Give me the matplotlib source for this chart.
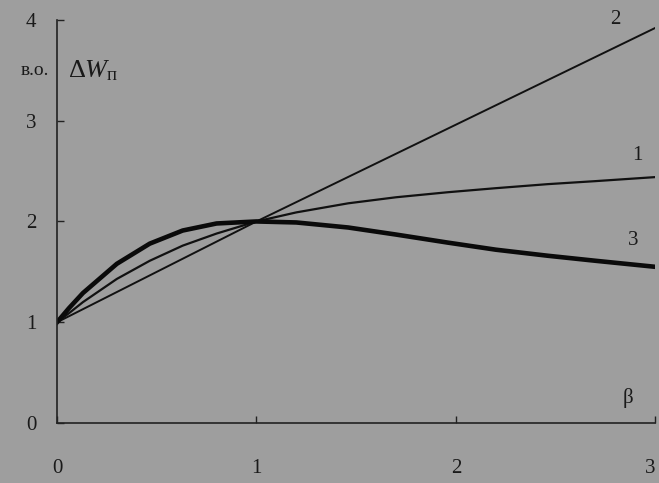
import matplotlib.pyplot as plt

plt.rcParams['font.family'] = ['Liberation Serif', 'DejaVu Serif']
plt.rcParams['mathtext.fontset'] = 'custom'
plt.rcParams['mathtext.rm'] = 'Liberation Serif'
plt.rcParams['mathtext.it'] = 'Liberation Serif:italic'

# curves
beta = [0, 0.06, 0.13, 0.3, 0.465, 0.63, 0.8, 1.0, 1.2, 1.46, 1.7, 1.96, 2.2,
        2.46, 2.7, 3.0]
w1 = [1.0, 1.09, 1.2, 1.43, 1.61, 1.76, 1.88, 2.0, 2.09, 2.18, 2.24, 2.29,
      2.33, 2.37, 2.4, 2.44]
w3 = [1.0, 1.14, 1.29, 1.58, 1.78, 1.91, 1.98, 2.0, 1.99, 1.94, 1.87, 1.79,
      1.72, 1.66, 1.61, 1.55]
beta2 = [0, 1, 3]
w2 = [1.0, 2.0, 3.92]

xticks = [0, 1, 2, 3]
yticks = [0, 1, 2, 3, 4]

bg = "#9e9e9e"
fig = plt.figure(figsize=(6.59, 4.83), dpi=100, facecolor=bg)
ax = fig.add_axes([0.0865, 0.124, 0.908, 0.835])
ax.set_facecolor(bg)

ax.plot(beta2, w2, color="#111111", linewidth=1.4)
ax.plot(beta, w1, color="#111111", linewidth=1.6)
ax.plot(beta, w3, color="#0a0a0a", linewidth=3.3, solid_joinstyle="round")

ax.set_xlim(0, 3)
ax.set_ylim(0, 4)
ax.spines["top"].set_visible(False)
ax.spines["right"].set_visible(False)
ax.spines["left"].set_color("#222222")
ax.spines["bottom"].set_color("#222222")
ax.spines["left"].set_linewidth(1.2)
ax.spines["bottom"].set_linewidth(1.2)

ax.set_xticks(xticks)
ax.set_yticks(yticks)
ax.tick_params(direction="in", length=5, width=1, color="#222222")
ax.tick_params(axis="x", pad=26, labelsize=15, labelcolor="#1a1a1a")
ax.tick_params(axis="y", pad=15, labelsize=15, labelcolor="#1a1a1a")
ax.get_xticklabels()[-1].set_ha("right")

ax.text(-0.04, 3.5, "в.о.", ha="right", va="center", fontsize=14,
        color="#1a1a1a", clip_on=False)
ax.text(0.055, 3.5, r"$\Delta W_{\mathrm{п}}$", ha="left", va="center",
        fontsize=19, color="#1a1a1a", clip_on=False)
ax.text(2.86, 0.15, "β", ha="center", va="bottom", fontsize=15,
        color="#1a1a1a")

ax.text(2.8, 4.0, "2", ha="center", va="center", fontsize=15,
        color="#1a1a1a", clip_on=False)
ax.text(2.91, 2.65, "1", ha="center", va="center", fontsize=15,
        color="#1a1a1a")
ax.text(2.89, 1.81, "3", ha="center", va="center", fontsize=15,
        color="#1a1a1a")

fig.savefig("out.png", dpi=100, facecolor=bg)
